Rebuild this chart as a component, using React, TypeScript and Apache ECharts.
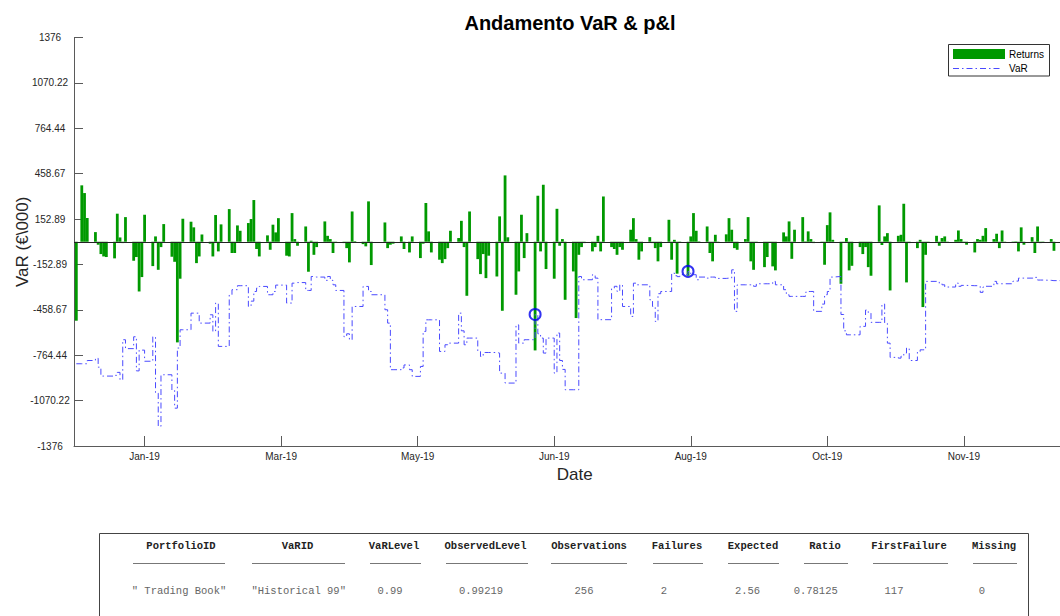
import React, { useEffect, useRef } from "react";
import * as echarts from "echarts";

// ---------- data ----------
const firstDate = "2018-12-31";
const lastDate = "2019-12-31";
const holidays = ["2019-01-01", "2019-04-19", "2019-04-22", "2019-05-01", "2019-12-25", "2019-12-26"];

// daily P&L (€000), one value per trading day, by month
const returnsDec18 = [-532];
const returnsJan = [380, 328, 160, 65, -20, -83, -99, -103, -112, 189, 29, -9, 166, -128, -103, -335, -238, 182, -164, 36, -189, -36];
const returnsFeb = [119, -101, -135, -678, -249, 155, 135, 97, -144, -99, 49, -13, -99, 180, -65, 117, 220, -76, -76, 110];
const returnsMar = [74, 126, 153, 281, -49, -99, 43, -54, 115, 63, 159, -94, -99, 193, 18, -27, 103, -202, 7, -88, -36];
const returnsApr = [137, 40, 18, -76, -4, -9, -43, -139, 204, 4, -16, -31, 272, -157, 130, -43, -20, -13, 36, -49];
const returnsMay = [-72, 36, -110, -13, 261, 70, -72, -121, -144, -117, -43, 74, 25, 141, -36, -364, 204, -117, -218, -83, -245, -94];
const returnsJun = [-234, 171, -465, 447, 30, -357, -200, 182, -110, 58, -732, 310, -65, 384, -184, -249, 222, -27, 18, -391];
const returnsJul = [-200, -514, -88, -36, -9, -65, -36, 40, -65, 305, -36, -49, -88, -36, -54, 81, 159, 18, -121, -65, 31, -9, -43];
const returnsAug = [-132, -36, 148, -121, 13, -215, 2, -229, 36, 193, 74, 3, 103, -76, -132, 47, -3, 50, 159, 81, -43, -54];
const returnsSep = [18, 166, -132, -189, -2, -171, -103, -3, -166, -193, 63, 36, 137, -115, 81, 166, 3, 70, 18, -9, -5];
const returnsOct = [-155, 112, 198, 13, -283, -3, 25, -193, -162, -36, -83, -36, -171, -229, 245, -22, 36, 58, -328, 40, 47, 256, -274];
const returnsNov = [-9, -43, 13, -440, -88, -3, 40, -27, 25, 36, -3, 13, 76, 18, 2, -20, -72, 18, 13, 40, 92];
const returnsDec = [18, 54, -43, 76, -3, 2, 3, -65, 97, -20, 31, -76, 103, -9, 2, 18, -61, -72, 25, -30];

// VaR 99% (€000, negative), one value per trading day, by month
const varDec18 = [-822];
const varJan = [-822, -822, -800, -785, -845, -905, -905, -905, -900, -880, -930, -660, -720, -640, -870, -730, -730, -805, -640, -1020, -1244, -896];
const varFeb = [-896, -1000, -1121, -716, -593, -593, -481, -481, -481, -548, -548, -492, -604, -413, -705, -705, -357, -323, -323, -296];
const varMar = [-296, -436, -400, -335, -312, -301, -357, -357, -335, -292, -292, -413, -413, -279, -275, -275, -328, -328, -234, -238, -238];
const varApr = [-260, -234, -260, -290, -328, -640, -620, -660, -436, -436, -301, -301, -335, -357, -458, -548, -862, -862, -850, -830];
const varMay = [-862, -907, -840, -604, -526, -526, -526, -739, -739, -694, -683, -683, -481, -600, -694, -649, -649, -739, -773, -746, -746, -746];
const varJun = [-750, -885, -885, -952, -952, -560, -683, -683, -660, -660, -490, -620, -649, -750, -649, -885, -615, -800, -860, -997];
const varJul = [-997, -997, -234, -256, -256, -222, -245, -525, -525, -525, -312, -300, -335, -290, -436, -503, -279, -290, -290, -290, -391, -436, -537];
const varAug = [-350, -335, -335, -211, -229, -235, -222, -200, -222, -222, -256, -238, -245, -238, -238, -247, -247, -245, -245, -189, -469, -290];
const varSep = [-290, -290, -290, -300, -283, -283, -283, -283, -267, -290, -323, -357, -368, -368, -368, -368, -340, -335, -335, -469, -420];
const varOct = [-357, -335, -238, -234, -490, -600, -627, -627, -627, -570, -570, -460, -481, -543, -543, -420, -550, -683, -779, -784, -770, -750, -716];
const varNov = [-800, -740, -728, -728, -267, -267, -267, -280, -290, -305, -305, -279, -300, -294, -294, -296, -296, -300, -341, -305, -300];
const varDec = [-267, -283, -283, -283, -283, -265, -265, -245, -245, -245, -245, -240, -258, -258, -260, -262, -262, -267, -267, -267];

const yTicks = [-1376, -1070.22, -764.44, -458.67, -152.89, 152.89, 458.67, 764.44, 1070.22, 1376];
const xTickDates = ["2019-01-25", "2019-03-16", "2019-05-05", "2019-06-24", "2019-08-13", "2019-10-02", "2019-11-21"];
const xTickLabels = ["Jan-19", "Mar-19", "May-19", "Jun-19", "Aug-19", "Oct-19", "Nov-19"];

const portfolioId = "Trading Book";
const varId = "Historical 99";
const varLevel = 0.99;

// ---------- derived ----------
const returns = [
  ...returnsDec18, ...returnsJan, ...returnsFeb, ...returnsMar, ...returnsApr, ...returnsMay, ...returnsJun,
  ...returnsJul, ...returnsAug, ...returnsSep, ...returnsOct, ...returnsNov, ...returnsDec,
];
const varLevels = [
  ...varDec18, ...varJan, ...varFeb, ...varMar, ...varApr, ...varMay, ...varJun,
  ...varJul, ...varAug, ...varSep, ...varOct, ...varNov, ...varDec,
];

const DAY = 86400000;
const toUTC = (s: string) => {
  const [y, m, d] = s.split("-").map(Number);
  return Date.UTC(y, m - 1, d);
};
const origin = toUTC("2019-01-01");
const dayOf = (s: string) => Math.round((toUTC(s) - origin) / DAY);

const tradingDays: number[] = [];
{
  const hol = new Set(holidays.map(dayOf));
  for (let d = dayOf(firstDate); d <= dayOf(lastDate); d++) {
    const dow = new Date(origin + d * DAY).getUTCDay();
    if (dow === 0 || dow === 6 || hol.has(d)) continue;
    tradingDays.push(d);
  }
}
const n = Math.min(tradingDays.length, returns.length, varLevels.length);
const barData = Array.from({ length: n }, (_, i) => [tradingDays[i], returns[i]]);
const varData = Array.from({ length: n }, (_, i) => [tradingDays[i], varLevels[i]]);
const failIdx: number[] = [];
for (let i = 0; i < n; i++) if (returns[i] < varLevels[i]) failIdx.push(i);
const failData = failIdx.map((i) => [tradingDays[i], varLevels[i]]);

const xTickDays = xTickDates.map(dayOf);
const nObs = n;
const nFail = failIdx.length;
const expected = Number((nObs * (1 - varLevel)).toFixed(5));
const observedLevel = (1 - nFail / nObs).toFixed(5);
const ratio = String(Number((nFail / expected).toFixed(5)));
const firstFailure = failIdx.length ? failIdx[0] + 1 : 0;

const tableHeaders = ["PortfolioID", "VaRID", "VaRLevel", "ObservedLevel", "Observations", "Failures", "Expected", "Ratio", "FirstFailure", "Missing"];
const tableValues = [
  `" ${portfolioId}"`, `"${varId}"`, String(varLevel), observedLevel, String(nObs), String(nFail),
  String(expected), ratio, String(firstFailure), "0",
];

// ---------- layout ----------
const SANS = '"Liberation Sans", Arial, Helvetica, sans-serif';
const MONO = '"Liberation Mono", "Courier New", monospace';
const headerX = [181, 297.5, 394, 485.5, 589, 677, 753, 825, 909, 994];
const ruleX = [[133, 225], [252, 345], [370, 421], [446, 528], [551, 627], [653, 703], [728, 779], [804, 848], [873, 948], [973, 1017]];
const valueX = [179, 298.7, 390, 481, 584, 664, 747.5, 815.7, 894, 982];

const graphic: any[] = [
  {
    type: "text", x: 570, y: 23,
    style: { text: "Andamento VaR & p&l", font: `bold 20px ${SANS}`, fill: "#000", align: "center", verticalAlign: "middle" },
  },
  // legend
  { type: "rect", shape: { x: 948.5, y: 44.5, width: 101, height: 31.5 }, style: { fill: "#fff", stroke: "#333", lineWidth: 1 }, z: 10 },
  { type: "rect", shape: { x: 953, y: 49, width: 52, height: 10 }, style: { fill: "#009900" }, z: 11 },
  { type: "text", x: 1009, y: 54, style: { text: "Returns", font: `10px ${SANS}`, fill: "#000", verticalAlign: "middle" }, z: 11 },
  { type: "line", shape: { x1: 953, y1: 68.5, x2: 1000, y2: 68.5 }, style: { stroke: "#4a4aff", lineWidth: 1, lineDash: [6, 3, 1.5, 3] }, z: 11 },
  { type: "text", x: 1009, y: 68.5, style: { text: "VaR", font: `10px ${SANS}`, fill: "#000", verticalAlign: "middle" }, z: 11 },
  // table box
  { type: "rect", shape: { x: 99.5, y: 533.5, width: 929, height: 120 }, style: { fill: "none", stroke: "#444", lineWidth: 1 } },
];
tableHeaders.forEach((h, i) => {
  graphic.push({ type: "text", x: headerX[i], y: 546, style: { text: h, font: `bold 10.5px ${MONO}`, fill: "#222", align: "center", verticalAlign: "middle" } });
  graphic.push({ type: "line", shape: { x1: ruleX[i][0], y1: 563.5, x2: ruleX[i][1], y2: 563.5 }, style: { stroke: "#777", lineWidth: 1 } });
  graphic.push({ type: "text", x: valueX[i], y: 591, style: { text: tableValues[i], font: `10.5px ${MONO}`, fill: "#666", align: "center", verticalAlign: "middle" } });
});

const axisColor = "#5a5a5a";

const option: any = {
  animation: false,
  backgroundColor: "#fff",
  textStyle: { fontFamily: SANS },
  grid: { left: 74, top: 37.5, width: 1001.4, height: 408.5, containLabel: false, outerBoundsMode: "none" },
  xAxis: {
    type: "value",
    min: -1.85,
    max: 364.85,
    name: "Date",
    nameLocation: "middle",
    nameGap: 20,
    nameMoveOverlap: false,
    nameTextStyle: { fontSize: 17, color: "#262626", fontFamily: SANS },
    axisLine: { show: true, onZero: false, lineStyle: { color: axisColor, width: 1 } },
    axisTick: { show: true, inside: true, length: 10, customValues: xTickDays, lineStyle: { color: axisColor } },
    axisLabel: {
      show: true, customValues: xTickDays, margin: 5, fontSize: 10, color: "#262626", fontFamily: SANS,
      formatter: (v: number) => {
        const k = xTickDays.indexOf(Math.round(v));
        return k >= 0 ? xTickLabels[k] : "";
      },
    },
    splitLine: { show: false },
  },
  yAxis: {
    type: "value",
    min: -1376,
    max: 1376,
    name: "VaR (€\\000)",
    nameLocation: "middle",
    nameGap: 43,
    nameMoveOverlap: false,
    nameTextStyle: { fontSize: 17, color: "#262626", fontFamily: SANS },
    axisLine: { show: true, onZero: false, lineStyle: { color: axisColor, width: 1 } },
    axisTick: { show: true, inside: true, length: 9, customValues: yTicks, lineStyle: { color: axisColor } },
    axisLabel: {
      show: true, customValues: yTicks, margin: 24, align: "center", fontSize: 10, color: "#262626", fontFamily: SANS,
      formatter: (v: number) => String(Math.round(v * 100) / 100),
    },
    splitLine: { show: false },
  },
  series: [
    {
      name: "Returns",
      type: "bar",
      data: barData,
      barWidth: 2.8,
      itemStyle: { color: "#009900" },
      markLine: {
        silent: true,
        symbol: ["none", "none"],
        label: { show: false },
        lineStyle: { color: "#222", width: 1, type: "solid" },
        data: [{ yAxis: 0 }],
      },
    },
    {
      name: "VaR",
      type: "line",
      step: "end",
      data: varData,
      showSymbol: false,
      lineStyle: { color: "#4a4aff", width: 1, type: [6, 3, 1.5, 3] },
      z: 3,
    },
    {
      name: "Failures",
      type: "scatter",
      data: failData,
      symbol: "circle",
      symbolSize: 11,
      itemStyle: { color: "rgba(0,0,0,0)", borderColor: "#0000ee", borderWidth: 2 },
      z: 5,
    },
  ],
  graphic,
};

export default function App() {
  const ref = useRef<HTMLDivElement>(null);
  useEffect(() => {
    if (!ref.current) return;
    const chart = echarts.init(ref.current, undefined, { renderer: "svg" });
    chart.setOption(option);
    return () => chart.dispose();
  }, []);
  return (
    <div style={{ position: "fixed", left: 0, top: 0, width: 1060, height: 616, overflow: "hidden", background: "#fff" }}>
      <div ref={ref} style={{ width: 1080, height: 616 }} />
    </div>
  );
}
